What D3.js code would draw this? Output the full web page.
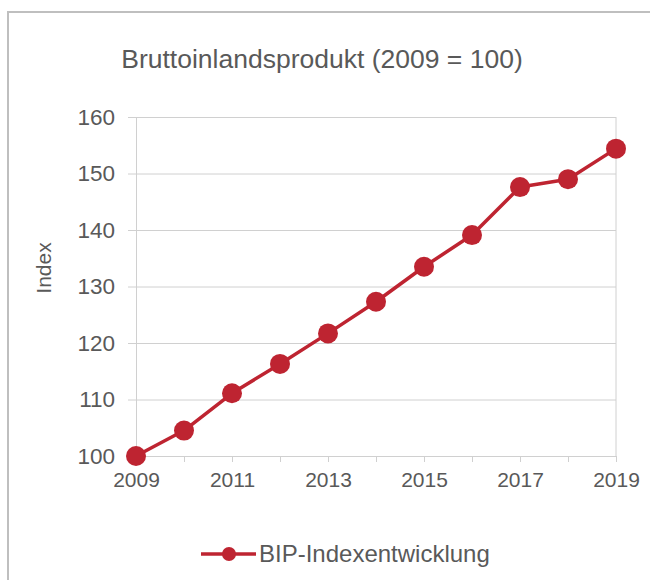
<!DOCTYPE html>
<html><head><meta charset="utf-8">
<script src="https://cdn.jsdelivr.net/npm/d3@7"></script>
<style>body{margin:0;background:#fff;font-family:"Liberation Sans",Arial,sans-serif;}</style>
</head><body><svg id="c" width="650" height="580"></svg>
<script>
const years = [2009,2010,2011,2012,2013,2014,2015,2016,2017,2018,2019];
const values = [100,104.5,111.1,116.3,121.7,127.3,133.5,139.1,147.6,149.0,154.4];
const yTicks = [100,110,120,130,140,150,160];
const xLabels = [2009,2011,2013,2015,2017,2019];
const seriesName = "BIP-Indexentwicklung";
const title = "Bruttoinlandsprodukt (2009 = 100)";
const yTitle = "Index";

const red = "#BE2431", txt = "#595959", grid = "#d0d0d0";
const svg = d3.select("#c");
svg.append("rect").attr("x",8).attr("y",12).attr("width",700).attr("height",700)
  .attr("fill","#fff").attr("stroke","#bfbfbf").attr("stroke-width",2);

const x = d3.scaleLinear().domain([2009,2019]).range([136,616]);
const y = d3.scaleLinear().domain([100,160]).range([456,117]);

svg.append("text").attr("x",322).attr("y",68).attr("text-anchor","middle")
  .attr("font-size",26.5).attr("fill",txt).text(title);

// gridlines + y axis
const ya = svg.append("g").attr("transform","translate(136,0)")
  .call(d3.axisLeft(y).tickValues(yTicks).tickSize(8).tickPadding(13).tickFormat(d3.format("d")));
ya.select(".domain").attr("stroke",grid);
ya.selectAll(".tick line").attr("stroke",grid).attr("x2",480).attr("x1",-8);
ya.selectAll(".tick text").attr("font-size",22.5).attr("fill",txt).attr("font-family","Liberation Sans, Arial, sans-serif");

// right border line
svg.append("line").attr("x1",616).attr("x2",616).attr("y1",y(160)).attr("y2",y(100)).attr("stroke",grid);

// x axis
const xa = svg.append("g").attr("transform","translate(0,456)")
  .call(d3.axisBottom(x).tickValues(years).tickSize(6).tickPadding(10)
    .tickFormat(d => xLabels.includes(d) ? String(d) : ""));
xa.select(".domain").attr("stroke",grid);
xa.selectAll(".tick line").attr("stroke",grid);
xa.selectAll(".tick text").attr("font-size",21).attr("fill",txt).attr("font-family","Liberation Sans, Arial, sans-serif");

svg.append("text").attr("transform","translate(51,268) rotate(-90)").attr("text-anchor","middle")
  .attr("font-size",21).attr("fill",txt).text(yTitle);

const data = years.map((yr,i)=>({yr, v: values[i]}));
svg.append("path").datum(data).attr("fill","none").attr("stroke",red).attr("stroke-width",3.5)
  .attr("stroke-linejoin","round")
  .attr("d", d3.line().x(d=>x(d.yr)).y(d=>y(d.v)));
svg.selectAll("circle.pt").data(data).join("circle").attr("class","pt")
  .attr("cx",d=>x(d.yr)).attr("cy",d=>y(d.v)).attr("r",10).attr("fill",red);

// legend
const lg = svg.append("g");
lg.append("line").attr("x1",201).attr("x2",256).attr("y1",554).attr("y2",554).attr("stroke",red).attr("stroke-width",3.5);
lg.append("circle").attr("cx",229).attr("cy",554).attr("r",7).attr("fill",red);
lg.append("text").attr("x",259).attr("y",562).attr("font-size",24).attr("fill",txt).text(seriesName);
</script></body></html>
